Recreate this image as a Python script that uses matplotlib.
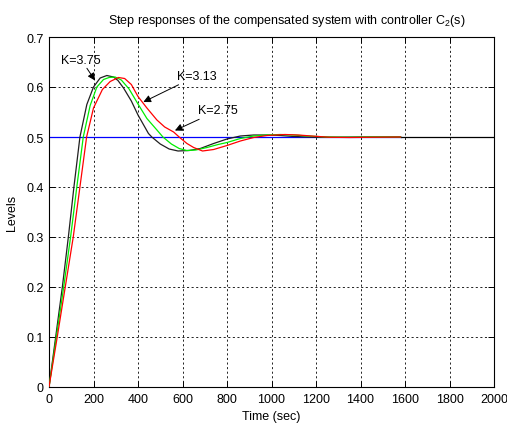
import numpy as np
import matplotlib
matplotlib.use("Agg")
import matplotlib.pyplot as plt

plt.rcParams['font.family'] = ['Liberation Sans', 'DejaVu Sans']
plt.rcParams['mathtext.fontset'] = 'custom'
plt.rcParams['mathtext.rm'] = 'Liberation Sans'
plt.rcParams['mathtext.default'] = 'regular'

# step response for K=3.75 (black)
t_k375 = [0, 30, 60, 87, 112, 139, 170, 200, 230, 260, 290, 310, 335, 370, 400,
          447, 462, 500, 540, 580, 630, 680, 740, 800, 860, 920, 980, 1040,
          1100, 1200, 1300, 1400, 1500, 1580]
y_k375 = [0, 0.10, 0.20, 0.30, 0.40, 0.50, 0.565, 0.600, 0.618, 0.623, 0.620,
          0.613, 0.598, 0.572, 0.544, 0.507, 0.500, 0.486, 0.476, 0.472, 0.473,
          0.477, 0.487, 0.496, 0.502, 0.504, 0.504, 0.503, 0.501, 0.4995,
          0.4995, 0.500, 0.500, 0.500]

# step response for K=3.13 (green)
t_k313 = [0, 33, 66, 97, 125, 154, 185, 215, 245, 270, 297, 325, 360, 400, 440,
          485, 512, 550, 585, 619, 660, 710, 760, 800, 860, 920, 980, 1040,
          1100, 1160, 1250, 1350, 1450, 1580]
y_k313 = [0, 0.10, 0.20, 0.30, 0.40, 0.50, 0.563, 0.600, 0.615, 0.619, 0.620,
          0.614, 0.596, 0.566, 0.537, 0.514, 0.500, 0.486, 0.477, 0.473, 0.474,
          0.479, 0.485, 0.489, 0.497, 0.502, 0.504, 0.505, 0.504, 0.502, 0.500,
          0.4995, 0.500, 0.500]

# step response for K=2.75 (red)
t_k275 = [0, 37, 73, 109, 139, 169, 200, 240, 275, 312, 340, 370, 400, 440, 485,
          520, 560, 590, 620, 650, 690, 740, 800, 860, 920, 980, 1060, 1120,
          1180, 1260, 1350, 1450, 1580]
y_k275 = [0, 0.10, 0.20, 0.30, 0.40, 0.50, 0.558, 0.595, 0.611, 0.619, 0.617,
          0.605, 0.581, 0.558, 0.534, 0.520, 0.510, 0.498, 0.487, 0.479, 0.472,
          0.475, 0.483, 0.492, 0.499, 0.503, 0.505, 0.504, 0.502, 0.4995,
          0.499, 0.4995, 0.500]

setpoint = 0.5
t_end = 1580

x_ticks = np.arange(0, 2001, 200)
y_ticks = np.arange(0, 0.71, 0.1)

fig = plt.figure(figsize=(5.07, 4.27), dpi=100)
ax = fig.add_axes([49 / 507, 1 - 388 / 427, 445 / 507, 350 / 427])

# reference level: blue over the simulated span, black beyond it
ax.plot([0, t_end], [setpoint, setpoint], color='#0000ff', lw=0.9, zorder=2)
ax.plot([t_end, 2000], [setpoint, setpoint], color='k', lw=0.9, zorder=2)
ax.plot(t_k375, y_k375, color='#202020', lw=0.9, zorder=3)
ax.plot(t_k313, y_k313, color='#00ee00', lw=0.9, zorder=4)
ax.plot(t_k275, y_k275, color='#ff0000', lw=0.9, zorder=5)

arrow = dict(arrowstyle='-|>', color='k', lw=0.7, mutation_scale=11,
             shrinkA=0, shrinkB=0)
ax.annotate('K=3.75', xy=(207, 0.613), xytext=(144, 0.655), fontsize=9,
            ha='center', va='center', arrowprops=arrow)
ax.annotate('K=3.13', xy=(424, 0.570), xytext=(574, 0.622), fontsize=9,
            ha='left', va='center', arrowprops=arrow)
ax.annotate('K=2.75', xy=(566, 0.513), xytext=(671, 0.553), fontsize=9,
            ha='left', va='center', arrowprops=arrow)

ax.set_xlim(0, 2000)
ax.set_ylim(0, 0.7)
ax.set_xticks(x_ticks)
ax.set_yticks(y_ticks)
ax.set_yticklabels(['0', '0.1', '0.2', '0.3', '0.4', '0.5', '0.6', '0.7'])
ax.tick_params(direction='in', top=True, right=True, length=4, width=0.7,
               labelsize=9, pad=4)
ax.grid(True, color='k', linestyle=(0, (2.5, 3)), lw=0.6)
for s in ax.spines.values():
    s.set_linewidth(0.8)

ax.set_xlabel('Time (sec)', fontsize=9, labelpad=4)
ax.set_ylabel('Levels', fontsize=9, labelpad=6)
ax.set_title('Step responses of the compensated system with controller C$_2$(s)',
             fontsize=9, pad=10, x=0.535)

fig.savefig('out.png', dpi=100)
